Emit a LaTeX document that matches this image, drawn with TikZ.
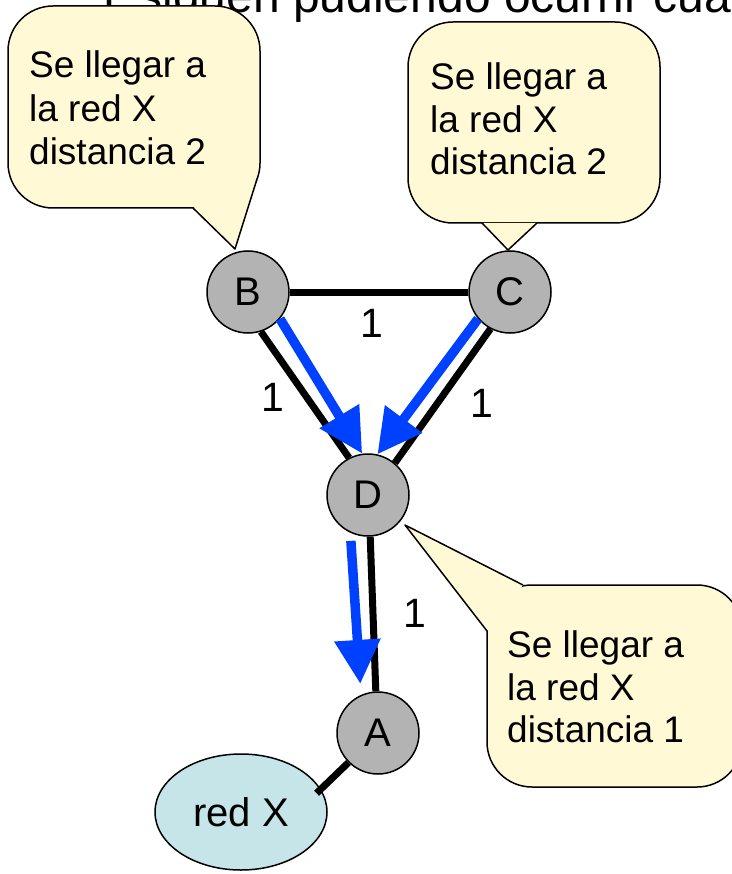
\documentclass[tikz,border=0pt]{standalone}
\usepackage{fontspec}
\setmainfont{Liberation Sans}
\usetikzlibrary{arrows.meta,shapes.geometric,calc}
\definecolor{callfill}{HTML}{FFF9D6}
\definecolor{nodegray}{HTML}{B3B3B3}
\definecolor{netfill}{HTML}{C5E5E9}
\definecolor{pathblue}{HTML}{0040FF}
\begin{document}
\begin{tikzpicture}[x=1pt,y=-1pt,
  router/.style={circle,draw=black,line width=1.5pt,fill=nodegray,minimum size=82pt,inner sep=0pt,font=\fontsize{40}{40}\selectfont},
  link/.style={line width=7pt,black},
  route/.style={line width=9.5pt,pathblue,-{Triangle[length=44pt,width=44pt]}},
  cost/.style={font=\fontsize{41}{41}\selectfont,inner sep=0pt},
  bubble/.style={draw=black,line width=1.5pt,fill=callfill,rounded corners=45pt},
  tailfill/.style={fill=callfill},
  tailedge/.style={draw=black,line width=1.5pt,line join=round},
  bubtext/.style={anchor=base west,inner sep=0pt,font=\fontsize{37}{43}\selectfont},
]
\useasboundingbox (0,0) rectangle (731,874);

% clipped title
\node[anchor=base west,inner sep=0pt,font=\fontsize{48}{48}\selectfont,text=black] (title) at (93,13) {Y siguen pudiendo ocurrir cuando};

% left callout
\path[bubble] (8,6) rectangle (260,208);
\fill[tailfill] (193,208) -- (235,249) -- (256.7,180) -- cycle;
\draw[tailedge] (193,208) -- (235,249) -- (256.7,180);
\node[bubtext] (t1a) at (29,78) {Se llegar a};
\node[bubtext] (t1b) at (29,122) {la red X};
\node[bubtext] (t1c) at (29,165) {distancia 2};

% right top callout
\path[bubble] (408,22) rectangle (660,223);
\fill[tailfill] (482,223) -- (508,250) -- (537,223) -- cycle;
\draw[tailedge] (482,223) -- (508,250) -- (537,223);
\node[bubtext] (t2a) at (430,90) {Se llegar a};
\node[bubtext] (t2b) at (430,133) {la red X};
\node[bubtext] (t2c) at (430,175) {distancia 2};

% bottom right callout
\path[bubble] (487,585) rectangle (742,787);
\fill[tailfill] (523,585) -- (405,525) -- (487,631) -- cycle;
\draw[tailedge] (523,585) -- (405,525) -- (487,631);
\node[bubtext] (t3a) at (507,657) {Se llegar a};
\node[bubtext] (t3b) at (507,700) {la red X};
\node[bubtext] (t3c) at (507,742) {distancia 1};

% network
\node[ellipse,draw=black,line width=1.5pt,fill=netfill,minimum width=172pt,minimum height=116pt,inner sep=0pt,font=\fontsize{40}{40}\selectfont] (X) at (241,812) {red X};
\node[router] (B) at (248,292) {B};
\node[router] (C) at (510,292) {C};
\node[router] (D) at (368,495) {D};
\node[router] (A) at (378,733) {A};

% links
\draw[link] (B) -- (C);
\draw[link] (B.-72) -- (D.117);
\draw[link] (C.-118) -- (D.50);
\draw[link] (D.-87) -- (A.93);
\draw[link,shorten >=-6pt] (A.-135) -- (X.16);

% routes
\draw[route] (B.-40) -- (D.98);
\draw[route] (C.-140) -- (D.77);
\draw[route,shorten <=8pt,shorten >=11pt] (D.-115) -- (A.114);

% costs
\node[cost] (c1) at (372,323) {1};
\node[cost] (c2) at (273,397) {1};
\node[cost] (c3) at (482,403) {1};
\node[cost] (c4) at (415,613) {1};
\end{tikzpicture}
\end{document}
